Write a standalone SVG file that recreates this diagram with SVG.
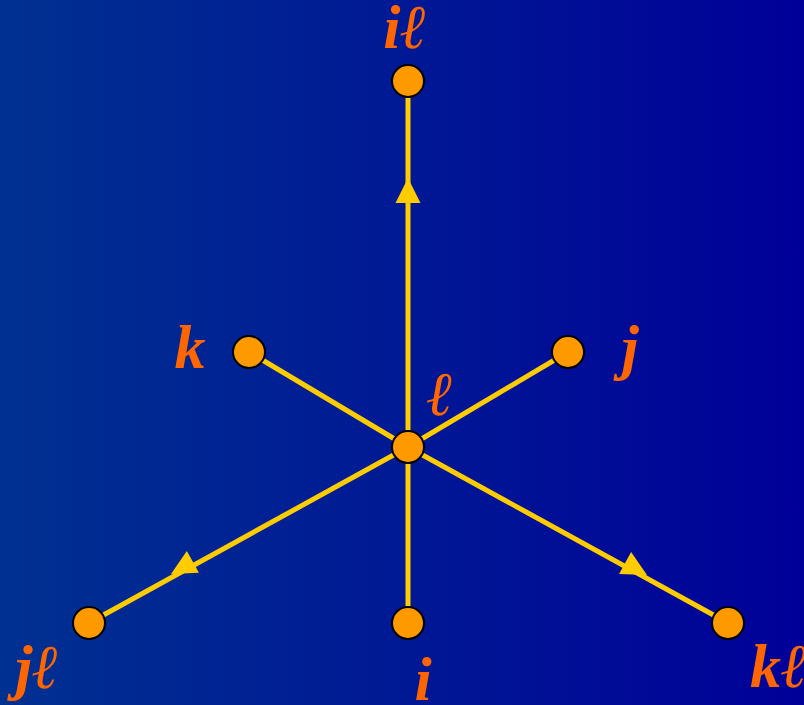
<svg xmlns="http://www.w3.org/2000/svg" xmlns:xlink="http://www.w3.org/1999/xlink" width="804" height="705" viewBox="0 0 804 705">
<defs>
<linearGradient id="bg" x1="0" y1="0" x2="1" y2="0">
<stop offset="0" stop-color="#003191"/>
<stop offset="1" stop-color="#000098"/>
</linearGradient>
<path id="arr" d="M0,0 L-25,-12.5 L-25,12.5 Z"/>
</defs>
<style>
.edge{stroke:#FFCC00;stroke-width:5;fill:none}
.ah{fill:#FFCC00}
.node{fill:#FF9900;stroke:#000;stroke-width:2}
.lbl{fill:#FF6600;font-family:"Liberation Serif","DejaVu Serif",serif;font-style:italic;font-weight:bold;font-size:62px}
</style>
<rect width="804" height="705" fill="url(#bg)"/>
<g id="connectors">
<line class="edge" x1="408" y1="447" x2="408" y2="81"/>
<line class="edge" x1="408" y1="447" x2="249" y2="352"/>
<line class="edge" x1="408" y1="447" x2="568" y2="352"/>
<line class="edge" x1="408" y1="447" x2="89" y2="623"/>
<line class="edge" x1="408" y1="447" x2="408" y2="623"/>
<line class="edge" x1="408" y1="447" x2="728" y2="623"/>
<use xlink:href="#arr" class="ah" transform="translate(408,178) rotate(-90)"/>
<use xlink:href="#arr" class="ah" transform="translate(171,574) rotate(151.1)"/>
<use xlink:href="#arr" class="ah" transform="translate(647,575) rotate(28.8)"/>
</g>
<g id="n-il"><circle class="node" cx="408" cy="81" r="16"/><text class="lbl" x="405" y="48" text-anchor="middle">iℓ</text></g>
<g id="n-k"><circle class="node" cx="249" cy="352" r="16"/><text class="lbl" x="190" y="368" text-anchor="middle">k</text></g>
<g id="n-j"><circle class="node" cx="568" cy="352" r="16"/><text class="lbl" x="630" y="368" text-anchor="middle">j</text></g>
<g id="n-l"><circle class="node" cx="408" cy="447" r="16"/><text class="lbl" x="440" y="415" text-anchor="middle">ℓ</text></g>
<g id="n-jl"><circle class="node" cx="89" cy="623" r="16"/><text class="lbl" x="37" y="688" text-anchor="middle">jℓ</text></g>
<g id="n-i"><circle class="node" cx="408" cy="623" r="16"/><text class="lbl" x="423" y="700" text-anchor="middle">i</text></g>
<g id="n-kl"><circle class="node" cx="728" cy="623" r="16"/><text class="lbl" x="750" y="687">kℓ</text></g>
</svg>
